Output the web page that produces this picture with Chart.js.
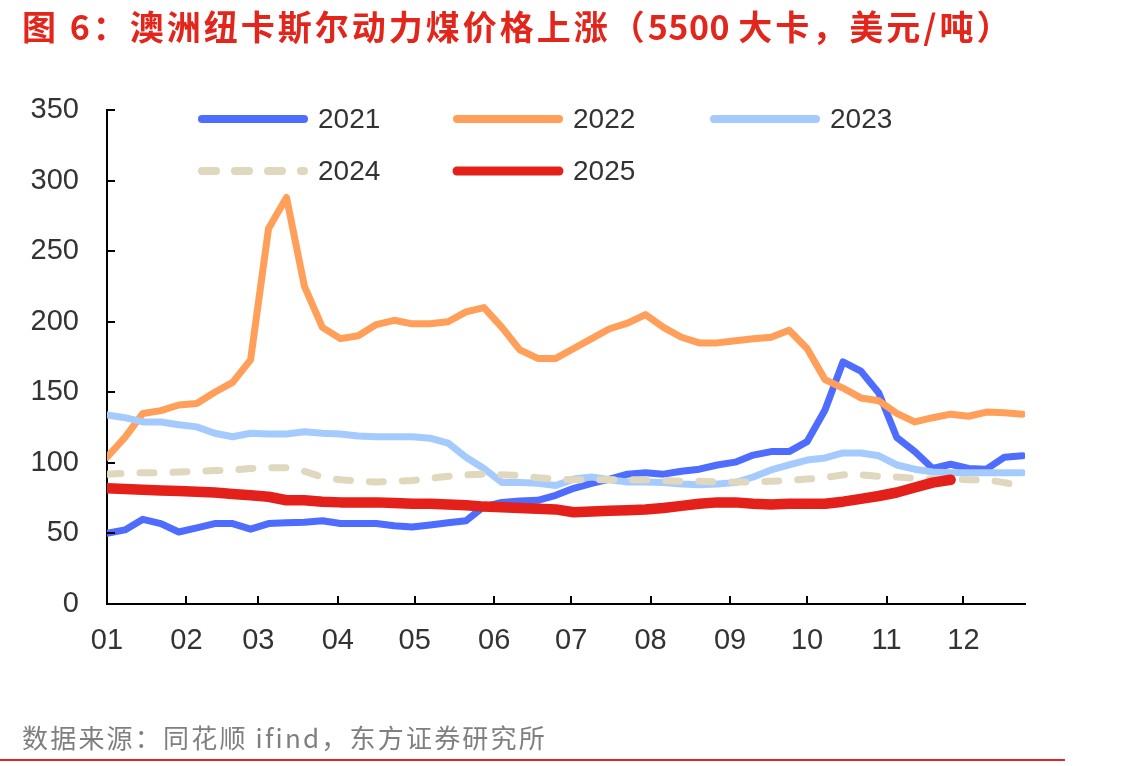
<!DOCTYPE html>
<html>
<head>
<meta charset="utf-8">
<script src="https://cdn.jsdelivr.net/npm/chart.js@4.4.1/dist/chart.umd.min.js"></script>
<style>
  html, body { margin: 0; padding: 0; background: #fff; }
  #wrap { position: relative; width: 1135px; height: 766px; overflow: hidden; }
  #title {
    position: absolute; left: 22px; top: 1px;
    font-family: "Noto Sans CJK SC", sans-serif; font-weight: bold;
    font-size: 34px; color: #e3261c; white-space: nowrap; letter-spacing: 3px;
  }
  #title .num { letter-spacing: 0.5px; }
  #source {
    position: absolute; left: 22px; top: 718px;
    font-family: "Noto Sans CJK SC", sans-serif;
    font-size: 26px; color: #7f7f7f; white-space: nowrap; letter-spacing: 2.2px;
  }
  #rule { position: absolute; left: 0; top: 759px; width: 1065px; height: 2px; background: #e3262a; }
  #chartBox { position: absolute; left: 0; top: 0; width: 1135px; height: 766px; }
</style>
</head>
<body>
<div id="wrap">
  <div id="chartBox"><canvas id="coalChart"></canvas></div>
  <div id="title">图 6：澳洲纽卡斯尔动力煤价格上涨（<span class="num">5500 </span>大卡，美元/吨）</div>
  <div id="source">数据来源：同花顺 ifind，东方证券研究所</div>
  <div id="rule"></div>
</div>
<script>
// Weekly observations, x = day of year
const weekDays = [0, 7, 14, 21, 28, 35, 42, 49, 56, 63, 70, 77, 84, 91, 98, 105, 112, 119, 126, 133,
  140, 147, 154, 161, 168, 175, 182, 189, 196, 203, 210, 217, 224, 231, 238, 245, 252, 259, 266, 273,
  280, 287, 294, 301, 308, 315, 322, 329, 336, 343, 350, 357];

// Month tick positions (day of year) and labels
const monthStarts = [0, 31, 59, 90, 120, 151, 181, 212, 243, 273, 304, 334];
const monthLabels = ['01', '02', '03', '04', '05', '06', '07', '08', '09', '10', '11', '12'];

// Price series (USD/t)
const price2021 = [50, 52.5, 60, 57, 51, 54, 57, 57, 53, 57, 57.5, 58, 59, 57, 57, 57, 55.5, 54.5, 56, 57.5,
  59, 69, 72, 73, 73.5, 77, 82, 85.5, 88.5, 92, 93, 92, 94, 95.5, 98.5, 100.5, 105.5, 108, 108, 115,
  137.5, 171.5, 165, 149.5, 118, 108, 96, 99, 96, 95.5, 104, 105];
const price2022 = [104, 118, 135, 137, 141, 142, 150, 157, 173, 266, 288, 225, 196, 188, 190, 198, 201, 198.5, 198.5, 200,
  207, 210, 196, 180, 174, 174, 181, 188, 195, 199, 205, 196, 189, 185, 185, 186.5, 188, 189, 194, 181,
  159, 153, 146, 144, 135, 129, 132, 134.5, 133, 136, 135.5, 134.5];
const price2023 = [134, 132, 129, 129, 127, 125.5, 121, 118.5, 121, 120.5, 120.5, 122, 121, 120.5, 119, 118.5, 118.5, 118.5, 117.5, 114,
  104, 96, 86, 86, 85.5, 84, 88.5, 90, 88, 86.5, 86.5, 86, 85, 84.5, 85, 86, 90, 95, 98.5, 102,
  103.5, 107, 107, 105, 98.5, 95.5, 93.5, 93, 93, 93, 93, 93];
const price2024 = [92, 92.5, 93, 93, 93.5, 94, 94.5, 95, 96, 96.5, 96.5, 94, 90, 88, 87, 86.5, 87, 87.5, 89, 90.5,
  91.5, 92, 91.5, 91, 89.5, 88.5, 88, 88, 88, 88, 88, 87.5, 87, 87, 86.5, 86.5, 86.5, 87, 87.5, 88.5,
  89.5, 91.5, 91.5, 90.5, 90, 89, 88.5, 88.5, 88, 88, 86, 83.5];
const price2025 = [82, 81.5, 81, 80.5, 80, 79.5, 79, 78, 77, 76, 73.5, 73.5, 72.5, 72, 72, 72, 71.5, 71, 71, 70.5,
  70, 69, 68.5, 68, 67.5, 67, 65, 65.5, 66, 66.5, 67, 68, 69.5, 71, 72, 72, 71, 70.5, 71, 71,
  71, 72.5, 74.5, 76.5, 79, 82.5, 86, 88];

const seriesNames = ['2021', '2022', '2023', '2024', '2025'];
const seriesData = [price2021, price2022, price2023, price2024, price2025];
const seriesColors = ['#4e6cfd', '#ff9f59', '#a5cbfe', '#e0d7bf', '#e3201a'];
const seriesWidths = [7, 7, 7, 7, 10.5];
const seriesDashes = [[], [], [], [14, 19], []];

const tickFont = { family: '"Liberation Sans", Arial, sans-serif', size: 29 };

// Inner tick marks on both axes
const innerTicks = {
  id: 'innerTicks',
  afterDraw(chart) {
    const { ctx, chartArea, scales } = chart;
    ctx.save();
    ctx.strokeStyle = '#000';
    ctx.lineWidth = 2;
    ctx.beginPath();
    scales.x.ticks.forEach(t => {
      const px = Math.round(scales.x.getPixelForValue(t.value));
      ctx.moveTo(px, chartArea.bottom);
      ctx.lineTo(px, chartArea.bottom - 8);
    });
    scales.y.ticks.forEach(t => {
      const py = Math.round(scales.y.getPixelForValue(t.value));
      ctx.moveTo(chartArea.left, py);
      ctx.lineTo(chartArea.left + 8, py);
    });
    ctx.stroke();
    ctx.restore();
  }
};

// Legend drawn inside the plot, two rows of three
const insideLegend = {
  id: 'insideLegend',
  afterDraw(chart) {
    const { ctx } = chart;
    const cols = [198, 453, 710];
    const rows = [119, 171];
    ctx.save();
    chart.data.datasets.forEach((ds, i) => {
      const x = cols[i % 3];
      const y = rows[Math.floor(i / 3)];
      ctx.strokeStyle = ds.borderColor;
      ctx.lineWidth = i === 4 ? 9 : 8;
      ctx.lineCap = 'round';
      ctx.setLineDash(ds.borderDash || []);
      ctx.beginPath();
      ctx.moveTo(x + 4, y);
      ctx.lineTo(x + 106, y);
      ctx.stroke();
      ctx.setLineDash([]);
      ctx.fillStyle = '#333';
      ctx.font = '28px "Liberation Sans", Arial, sans-serif';
      ctx.textBaseline = 'middle';
      ctx.fillText(ds.label, x + 120, y + 1);
    });
    ctx.restore();
  }
};

const ctx = document.getElementById('coalChart').getContext('2d');
new Chart(ctx, {
  type: 'line',
  data: {
    labels: weekDays,
    datasets: seriesNames.map((name, i) => ({
      label: name,
      data: seriesData[i],
      borderColor: seriesColors[i],
      backgroundColor: seriesColors[i],
      borderWidth: seriesWidths[i],
      borderDash: seriesDashes[i],
      borderCapStyle: 'round',
      borderJoinStyle: 'round',
      pointRadius: 0,
      tension: 0,
      fill: false,
      order: 5 - i
    }))
  },
  options: {
    responsive: true,
    maintainAspectRatio: false,
    animation: false,
    layout: { padding: { left: 0, right: 110, top: 110, bottom: 102 } },
    plugins: {
      legend: { display: false },
      tooltip: { enabled: false }
    },
    scales: {
      x: {
        type: 'linear',
        min: 0,
        max: 358,
        afterBuildTicks: scale => {
          scale.ticks = monthStarts.map(v => ({ value: v }));
        },
        afterFit: scale => { scale.height = 60; },
        grid: { display: false, drawTicks: false },
        border: { display: true, color: '#000', width: 2 },
        ticks: {
          autoSkip: false,
          maxRotation: 0,
          padding: 20,
          color: '#333',
          font: tickFont,
          callback: v => monthLabels[monthStarts.indexOf(v)]
        }
      },
      y: {
        min: 0,
        max: 350,
        afterFit: scale => { scale.width = 107; },
        grid: { display: false, drawTicks: false },
        border: { display: true, color: '#000', width: 2 },
        ticks: {
          stepSize: 50,
          padding: 28,
          color: '#333',
          font: tickFont
        }
      }
    }
  },
  plugins: [innerTicks, insideLegend]
});
</script>
</body>
</html>
